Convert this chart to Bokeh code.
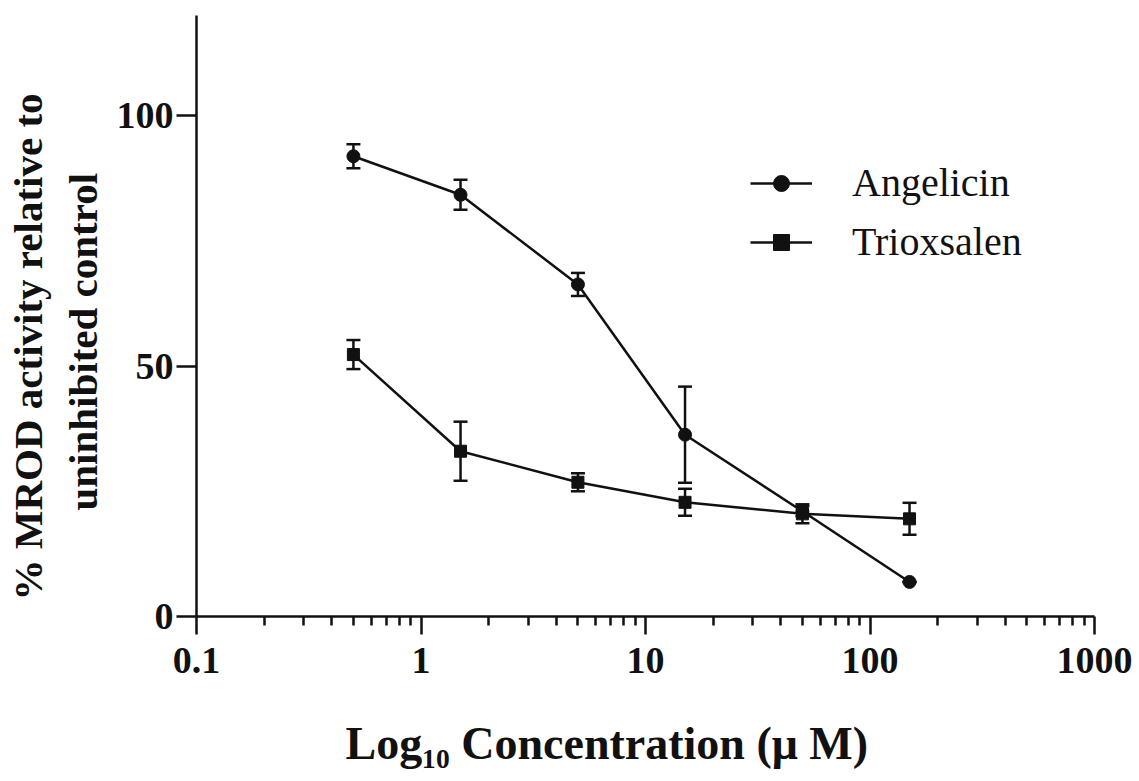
from bokeh.plotting import figure
from bokeh.models import (ColumnDataSource, Whisker, TeeHead, FixedTicker, Title,
                          Legend, LegendItem, Range1d)
from bokeh.embed import file_html
from bokeh.resources import INLINE

# ---- data ----
conc = [0.5, 1.5, 5, 15, 50, 150]
angelicin = [91.9, 84.2, 66.3, 36.3, 21.0, 6.9]
angelicin_err = [2.4, 3.0, 2.3, 9.6, 1.0, 0.0]
trioxsalen = [52.3, 33.0, 26.8, 22.8, 20.5, 19.5]
trioxsalen_err = [2.9, 5.9, 1.8, 2.7, 1.9, 3.2]
x_major = [0.1, 1, 10, 100, 1000]
x_labels = ["0.1", "1", "10", "100", "1000"]
y_major = [0, 50, 100]
x_title = "Log\u2081\u2080 Concentration (\u03bc M)"
y_title_1 = "% MROD activity relative to"
y_title_2 = "uninhibited control"
series_names = ["Angelicin", "Trioxsalen"]

FONT = "Liberation Serif"
INK = "#111111"

p = figure(width=1139, height=781, x_axis_type="log", output_backend="svg",
           toolbar_location=None, x_range=Range1d(0.1, 1000), y_range=Range1d(0, 120),
           min_border_left=196, min_border_right=45, min_border_top=15, min_border_bottom=165)
p.outline_line_color = None
p.xgrid.visible = False
p.ygrid.visible = False
p.background_fill_color = "white"
p.border_fill_color = "white"

minor = [k * 10 ** d for d in range(-1, 3) for k in range(2, 10)]
p.xaxis.ticker = FixedTicker(ticks=x_major, minor_ticks=minor)
p.yaxis.ticker = FixedTicker(ticks=y_major, minor_ticks=[])
p.xaxis.major_label_overrides = dict(zip(x_major, x_labels))
for ax in (p.xaxis, p.yaxis):
    ax.axis_line_width = 2.5
    ax.axis_line_color = INK
    ax.major_tick_line_width = 2.5
    ax.major_tick_line_color = INK
    ax.minor_tick_line_width = 2.5
    ax.minor_tick_line_color = INK
    ax.major_tick_in = 0
    ax.minor_tick_in = 0
    ax.major_label_text_font = FONT
    ax.major_label_text_font_style = "bold"
    ax.major_label_text_font_size = "38px"
    ax.major_label_text_color = INK
p.xaxis.major_tick_out = 18
p.xaxis.minor_tick_out = 9
p.yaxis.major_tick_out = 20
p.xaxis.major_label_standoff = 13
p.yaxis.major_label_standoff = 3
# blank spacer label below the tick labels, so that the title sits lower
p.xaxis.axis_label = " "
p.xaxis.axis_label_text_font_size = "20px"
p.xaxis.axis_label_standoff = 3

src_a = ColumnDataSource(dict(x=conc, y=angelicin,
                              lo=[v - e for v, e in zip(angelicin, angelicin_err)],
                              hi=[v + e for v, e in zip(angelicin, angelicin_err)]))
src_t = ColumnDataSource(dict(x=conc, y=trioxsalen,
                              lo=[v - e for v, e in zip(trioxsalen, trioxsalen_err)],
                              hi=[v + e for v, e in zip(trioxsalen, trioxsalen_err)]))

for src in (src_a, src_t):
    w = Whisker(source=src, base="x", lower="lo", upper="hi", line_width=2.5, line_color=INK,
                upper_head=TeeHead(size=14, line_width=2.5, line_color=INK),
                lower_head=TeeHead(size=14, line_width=2.5, line_color=INK))
    p.add_layout(w)

la = p.line("x", "y", source=src_a, line_width=2.5, line_color=INK)
sa = p.scatter("x", "y", source=src_a, marker="circle", size=13, fill_color=INK, line_color=INK)
lt = p.line("x", "y", source=src_t, line_width=2.5, line_color=INK)
st = p.scatter("x", "y", source=src_t, marker="square", size=12, fill_color=INK, line_color=INK)

legend = Legend(items=[LegendItem(label=series_names[0], renderers=[la, sa]),
                       LegendItem(label=series_names[1], renderers=[lt, st])],
                location=(554, 351), padding=0, margin=0, spacing=12,
                glyph_width=62, glyph_height=40, label_height=40, label_standoff=40,
                label_text_font=FONT, label_text_font_size="40px", label_text_color=INK,
                border_line_color=None, background_fill_alpha=0)
p.add_layout(legend, "center")

# y-axis title: two lines as stacked titles on the left (nearest the axis first)
p.add_layout(Title(text=y_title_2, align="left", offset=106, standoff=15,
                   text_font=FONT, text_font_style="bold", text_font_size="41px",
                   text_color=INK), "left")
p.add_layout(Title(text=y_title_1, align="left", offset=16, standoff=0,
                   text_font=FONT, text_font_style="bold", text_font_size="41px",
                   text_color=INK), "left")

# x-axis title
p.add_layout(Title(text=x_title, align="left", offset=149, standoff=24,
                   text_font=FONT, text_font_style="bold", text_font_size="46px",
                   text_color=INK), "below")

open("out.html", "w").write(file_html(p, INLINE))
